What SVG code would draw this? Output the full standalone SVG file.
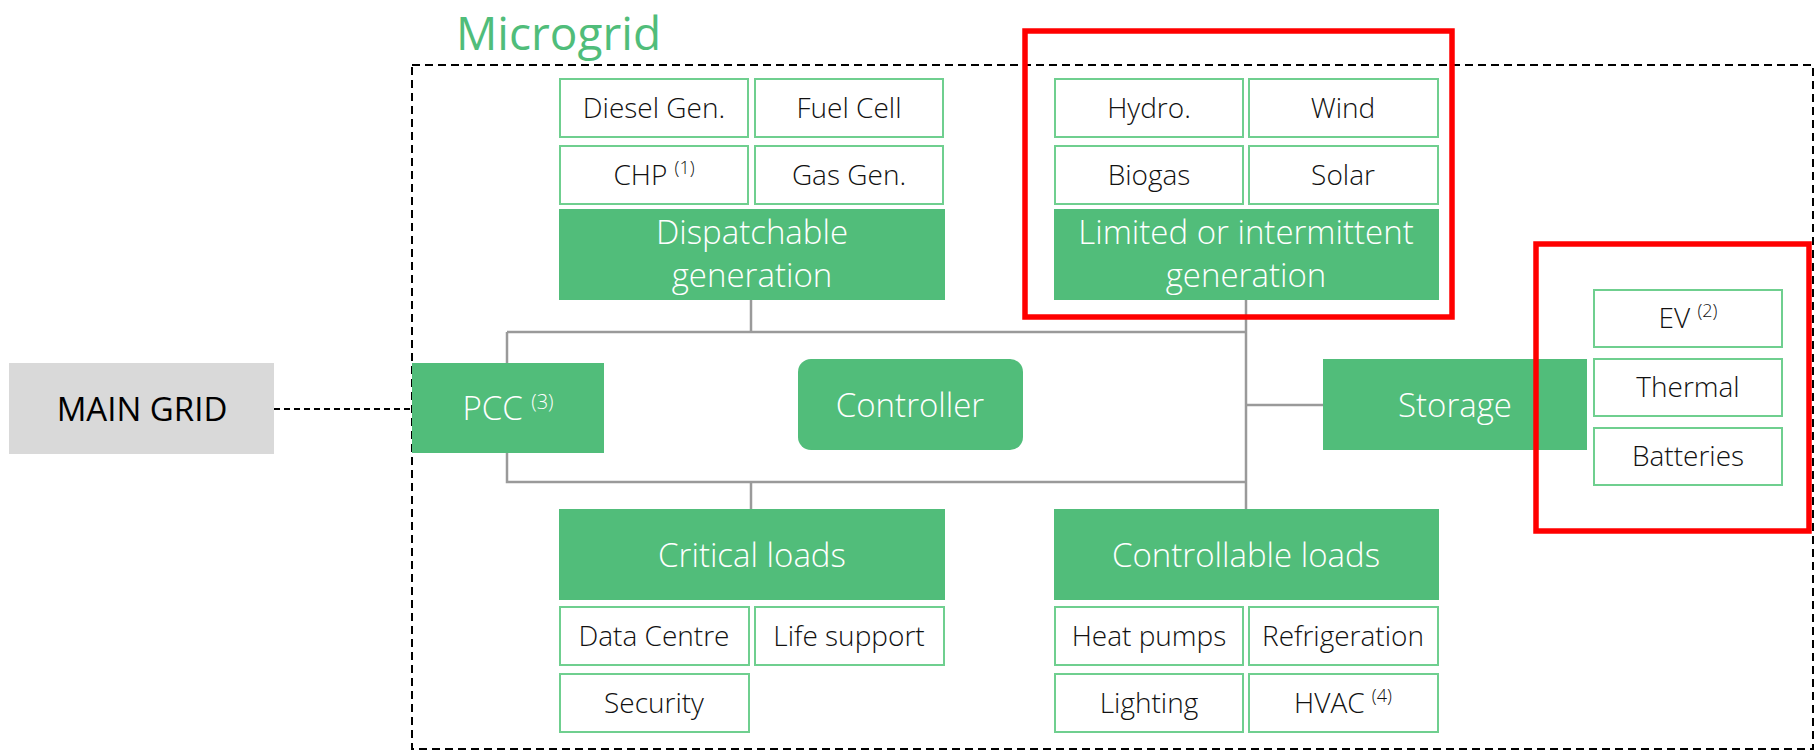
<svg xmlns="http://www.w3.org/2000/svg" width="1817" height="751" viewBox="0 0 1817 751">
<style>
text{font-family:"Open Sans","Liberation Sans",sans-serif;font-weight:300;text-anchor:middle}
.sub{fill:#ffffff;stroke:#6fcf8f;stroke-width:2}
.subt{font-size:28px;fill:#111111}
.hdr{fill:#51bd7a}
.hdrt{font-size:33px;fill:#ffffff}
.sup{font-size:18px}
.suph{font-size:20px}
.conn{stroke:#9a9a9a;stroke-width:2.5;fill:none}
.red{fill:none;stroke:#ff0000;stroke-width:5.5}
</style>
<rect width="1817" height="751" fill="#ffffff"/>

<g id="microgrid-boundary">
<rect x="412" y="65" width="1401" height="684" fill="none" stroke="#000000" stroke-width="2" stroke-dasharray="8 5"/>
<text x="456" y="50" style="font-size:46px;fill:#50bd7a;text-anchor:start;font-weight:400">Microgrid</text>
</g>

<g id="connectors">
<path class="conn" d="M751 300V332M507 332H1246M507 332V363M507 453V482H1246M751 482V509M1246 300V509M1246 405H1323"/>
<path d="M274 409H411" stroke="#000000" stroke-width="2" stroke-dasharray="6 4" fill="none"/>
</g>

<g id="main-grid">
<rect x="9" y="363" width="265" height="91" fill="#d9d9d9"/>
<text x="142" y="421" style="font-size:33px;fill:#000000;font-weight:400">MAIN GRID</text>
</g>

<g id="pcc">
<rect class="hdr" x="412" y="363" width="192" height="90"/>
<text class="hdrt" x="508" y="420">PCC <tspan class="suph" dy="-11">(3)</tspan></text>
</g>

<g id="controller">
<rect class="hdr" x="798" y="359" width="225" height="91" rx="13"/>
<text class="hdrt" x="910" y="417">Controller</text>
</g>

<g id="dispatchable-generation">
<rect class="hdr" x="559" y="209" width="386" height="91"/>
<text class="hdrt" x="752" y="244">Dispatchable</text>
<text class="hdrt" x="752" y="287">generation</text>
</g>
<g id="diesel-gen"><rect class="sub" x="560" y="79" width="188" height="58"/><text class="subt" x="654" y="118">Diesel Gen.</text></g>
<g id="fuel-cell"><rect class="sub" x="755" y="79" width="188" height="58"/><text class="subt" x="849" y="118">Fuel Cell</text></g>
<g id="chp"><rect class="sub" x="560" y="146" width="188" height="58"/><text class="subt" x="654" y="185">CHP <tspan class="sup" dy="-11">(1)</tspan></text></g>
<g id="gas-gen"><rect class="sub" x="755" y="146" width="188" height="58"/><text class="subt" x="849" y="185">Gas Gen.</text></g>

<g id="limited-generation">
<rect class="hdr" x="1054" y="209" width="385" height="91"/>
<text class="hdrt" x="1246" y="244">Limited or intermittent</text>
<text class="hdrt" x="1246" y="287">generation</text>
</g>
<g id="hydro"><rect class="sub" x="1055" y="79" width="188" height="58"/><text class="subt" x="1149" y="118">Hydro.</text></g>
<g id="wind"><rect class="sub" x="1249" y="79" width="189" height="58"/><text class="subt" x="1343" y="118">Wind</text></g>
<g id="biogas"><rect class="sub" x="1055" y="146" width="188" height="58"/><text class="subt" x="1149" y="185">Biogas</text></g>
<g id="solar"><rect class="sub" x="1249" y="146" width="189" height="58"/><text class="subt" x="1343" y="185">Solar</text></g>

<g id="storage">
<rect class="hdr" x="1323" y="359" width="264" height="91"/>
<text class="hdrt" x="1455" y="417">Storage</text>
</g>
<g id="ev"><rect class="sub" x="1594" y="290" width="188" height="57"/><text class="subt" x="1688" y="328">EV <tspan class="sup" dy="-11">(2)</tspan></text></g>
<g id="thermal"><rect class="sub" x="1594" y="359" width="188" height="57"/><text class="subt" x="1688" y="397">Thermal</text></g>
<g id="batteries"><rect class="sub" x="1594" y="428" width="188" height="57"/><text class="subt" x="1688" y="466">Batteries</text></g>

<g id="critical-loads">
<rect class="hdr" x="559" y="509" width="386" height="91"/>
<text class="hdrt" x="752" y="567">Critical loads</text>
</g>
<g id="data-centre"><rect class="sub" x="560" y="607" width="189" height="58"/><text class="subt" x="654" y="646">Data Centre</text></g>
<g id="life-support"><rect class="sub" x="755" y="607" width="189" height="58"/><text class="subt" x="849" y="646">Life support</text></g>
<g id="security"><rect class="sub" x="560" y="674" width="189" height="58"/><text class="subt" x="654" y="713">Security</text></g>

<g id="controllable-loads">
<rect class="hdr" x="1054" y="509" width="385" height="91"/>
<text class="hdrt" x="1246" y="567">Controllable loads</text>
</g>
<g id="heat-pumps"><rect class="sub" x="1055" y="607" width="188" height="58"/><text class="subt" x="1149" y="646">Heat pumps</text></g>
<g id="refrigeration"><rect class="sub" x="1249" y="607" width="189" height="58"/><text class="subt" x="1343" y="646">Refrigeration</text></g>
<g id="lighting"><rect class="sub" x="1055" y="674" width="188" height="58"/><text class="subt" x="1149" y="713">Lighting</text></g>
<g id="hvac"><rect class="sub" x="1249" y="674" width="189" height="58"/><text class="subt" x="1343" y="713">HVAC <tspan class="sup" dy="-11">(4)</tspan></text></g>

<g id="highlights">
<rect class="red" x="1025" y="31" width="427" height="286"/>
<rect class="red" x="1536" y="244" width="273" height="287"/>
</g>
</svg>
